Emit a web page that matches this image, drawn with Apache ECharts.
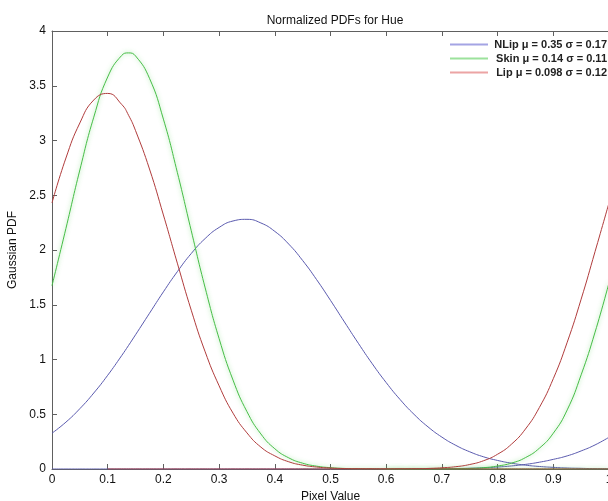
<!DOCTYPE html>
<html>
<head>
<meta charset="utf-8">
<script src="https://cdn.jsdelivr.net/npm/echarts@6/dist/echarts.min.js"></script>
<style>
  html, body { margin: 0; padding: 0; background: #fff; }
  #chart { width: 608px; height: 501px; }
</style>
</head>
<body>
<div id="chart"></div>
<script>
// pixel value samples
var xValues = [0, 0.025, 0.05, 0.075, 0.1, 0.125, 0.1375, 0.15, 0.175, 0.2, 0.225,
  0.25, 0.275, 0.3, 0.325, 0.35, 0.375, 0.4, 0.425, 0.45, 0.475,
  0.5, 0.525, 0.55, 0.575, 0.6, 0.625, 0.65, 0.675, 0.7, 0.725,
  0.75, 0.775, 0.8, 0.825, 0.85, 0.875, 0.9, 0.925, 0.95, 0.975, 1]

// NLip curve, main part and the part wrapping in at the right
var nlipMain = [0.327, 0.428, 0.551, 0.694, 0.856, 1.035, 1.129, 1.226, 1.422, 1.618, 1.802,
  1.968, 2.105, 2.206, 2.265, 2.280, 2.247, 2.170, 2.054, 1.904, 1.730,
  1.540, 1.343, 1.148, 0.961, 0.789, 0.634, 0.499, 0.385, 0.291, 0.216,
  0.157, 0.111, 0.078, 0.053, 0.035, 0.023, 0.015, 0.009, 0.006, 0.003, 0.002]
var nlipWrap = [0, 0, 0, 0, 0, 0, 0, 0, 0, 0, 0,
  0, 0, 0, 0, 0, 0, 0, 0, 0, 0,
  0, 0, 0, 0, 0, 0, 0.001, 0.002, 0.003, 0.004,
  0.007, 0.011, 0.018, 0.028, 0.042, 0.062, 0.088, 0.12, 0.165, 0.22, 0.29]

// Skin curve
var skinMain = [1.674, 2.197, 2.731, 3.213, 3.580, 3.776, 3.800, 3.772, 3.568, 3.195, 2.709,
  2.176, 1.654, 1.191, 0.812, 0.524, 0.320, 0.185, 0.102, 0.053, 0.026,
  0.012, 0.005, 0.002, 0.001, 0, 0, 0, 0, 0, 0,
  0, 0, 0, 0, 0, 0, 0, 0, 0, 0, 0]
var skinWrap = [null, null, null, null, null, null, null, null, null, null, null,
  null, null, null, null, null, null, null, null, null, null,
  null, null, null, null, 0, 0, 0, 0, 0.001, 0.002,
  0.005, 0.012, 0.027, 0.054, 0.104, 0.190, 0.327, 0.54, 0.86, 1.25, 1.70]

// Lip curve
var lipMain = [2.43, 2.84, 3.16, 3.37, 3.43, 3.33, 3.23, 3.09, 2.74, 2.32, 1.88,
  1.45, 1.07, 0.76, 0.51, 0.33, 0.20, 0.12, 0.066, 0.035, 0.018,
  0.009, 0.004, 0.002, 0.001, 0, 0, 0, 0, 0, 0,
  0, 0, 0, 0, 0, 0, 0, 0, 0, 0, 0]
var lipWrap = [null, null, null, null, 0, 0, 0, 0, 0, 0, 0,
  0, 0, 0, 0, 0, 0, 0, 0, 0, 0,
  0, 0, 0, 0, 0, 0.001, 0.002, 0.005, 0.011, 0.021,
  0.041, 0.076, 0.135, 0.227, 0.365, 0.562, 0.825, 1.158, 1.551, 1.986, 2.43]

var legendNames = ['NLip \u03bc = 0.35 \u03c3 = 0.17', 'Skin \u03bc = 0.14 \u03c3 = 0.11', 'Lip \u03bc = 0.098 \u03c3 = 0.12']
var yTicks = ['0', '0.5', '1', '1.5', '2', '2.5', '3', '3.5', '4']

var blue = '#5a5aae'
var green = '#46bd46'
var red = '#b03c3c'

function pairs (vals) {
  var out = []
  vals.forEach(function (v, i) {
    if (v !== null) out.push([xValues[i], v])
  })
  return out
}

function curve (name, vals, color, glow) {
  return {
    name: name,
    type: 'line',
    data: pairs(vals),
    symbol: 'none',
    smooth: 0.5,
    silent: true,
    lineStyle: {
      color: color,
      width: 1,
      shadowBlur: glow ? 4 : 0,
      shadowColor: glow ? 'rgba(90,210,90,0.7)' : 'transparent'
    },
    itemStyle: { color: color },
    z: 3
  }
}

var axisColor = '#606060'
var font = 'Liberation Sans, Arial, sans-serif'

var chart = echarts.init(document.getElementById('chart'), null, { renderer: 'canvas' })
chart.setOption({
  backgroundColor: '#fff',
  animation: false,
  title: {
    text: 'Normalized PDFs for Hue',
    left: 330,
    top: 10,
    textAlign: 'center',
    textStyle: { fontSize: 12, fontWeight: 'normal', color: '#111', fontFamily: font }
  },
  legend: {
    orient: 'vertical',
    left: 450,
    top: 39,
    padding: 0,
    icon: 'rect',
    itemWidth: 38,
    itemHeight: 2,
    itemGap: 3,
    data: legendNames.map(function (n, i) {
      var c = ['#a4a4e4', '#9ce29c', '#eca4a4'][i]
      return { name: n, itemStyle: { color: c, borderWidth: 0 } }
    }),
    formatter: function (n) { return '{t|' + n + '}' },
    textStyle: {
      fontFamily: font,
      fontSize: 11,
      color: '#111',
      rich: { t: { width: 114, align: 'right', fontSize: 11, fontWeight: 'bold', lineHeight: 14, fontFamily: font, color: '#222' } }
    }
  },
  grid: { left: 52, top: 31, width: 557, height: 438, outerBoundsMode: 'none', containLabel: false },
  xAxis: [{
    type: 'value',
    min: 0,
    max: 1,
    interval: 0.1,
    name: 'Pixel Value',
    nameLocation: 'middle',
    nameGap: 20,
    nameTextStyle: { fontSize: 12, color: '#111', fontFamily: font },
    axisLine: { lineStyle: { color: axisColor } },
    axisTick: { inside: true, length: 5, lineStyle: { color: axisColor } },
    axisLabel: { fontSize: 12, color: '#111', fontFamily: font, margin: 5 },
    splitLine: { show: false }
  }, {
    type: 'value',
    position: 'top',
    min: 0,
    max: 1,
    interval: 0.1,
    axisLine: { lineStyle: { color: axisColor } },
    axisTick: { inside: true, length: 5, lineStyle: { color: axisColor } },
    axisLabel: { show: false },
    splitLine: { show: false }
  }],
  yAxis: [{
    type: 'value',
    min: 0,
    max: 4,
    interval: 0.5,
    name: 'Gaussian PDF',
    nameLocation: 'middle',
    nameGap: 28,
    nameTextStyle: { fontSize: 12, color: '#111', fontFamily: font },
    axisLine: { show: true, lineStyle: { color: axisColor } },
    axisTick: { show: true, inside: true, length: 5, lineStyle: { color: axisColor } },
    axisLabel: {
      fontSize: 12, color: '#111', fontFamily: font, margin: 6,
      formatter: function (v) { return yTicks[Math.round(v * 2)] }
    },
    splitLine: { show: false }
  }],
  series: [
    curve(legendNames[0], nlipMain, blue, false),
    curve('nlip-wrap', nlipWrap, blue, false),
    curve(legendNames[1], skinMain, green, true),
    curve('skin-wrap', skinWrap, green, true),
    curve(legendNames[2], lipMain, red, false),
    curve('lip-wrap', lipWrap, red, false)
  ]
})
</script>
</body>
</html>
